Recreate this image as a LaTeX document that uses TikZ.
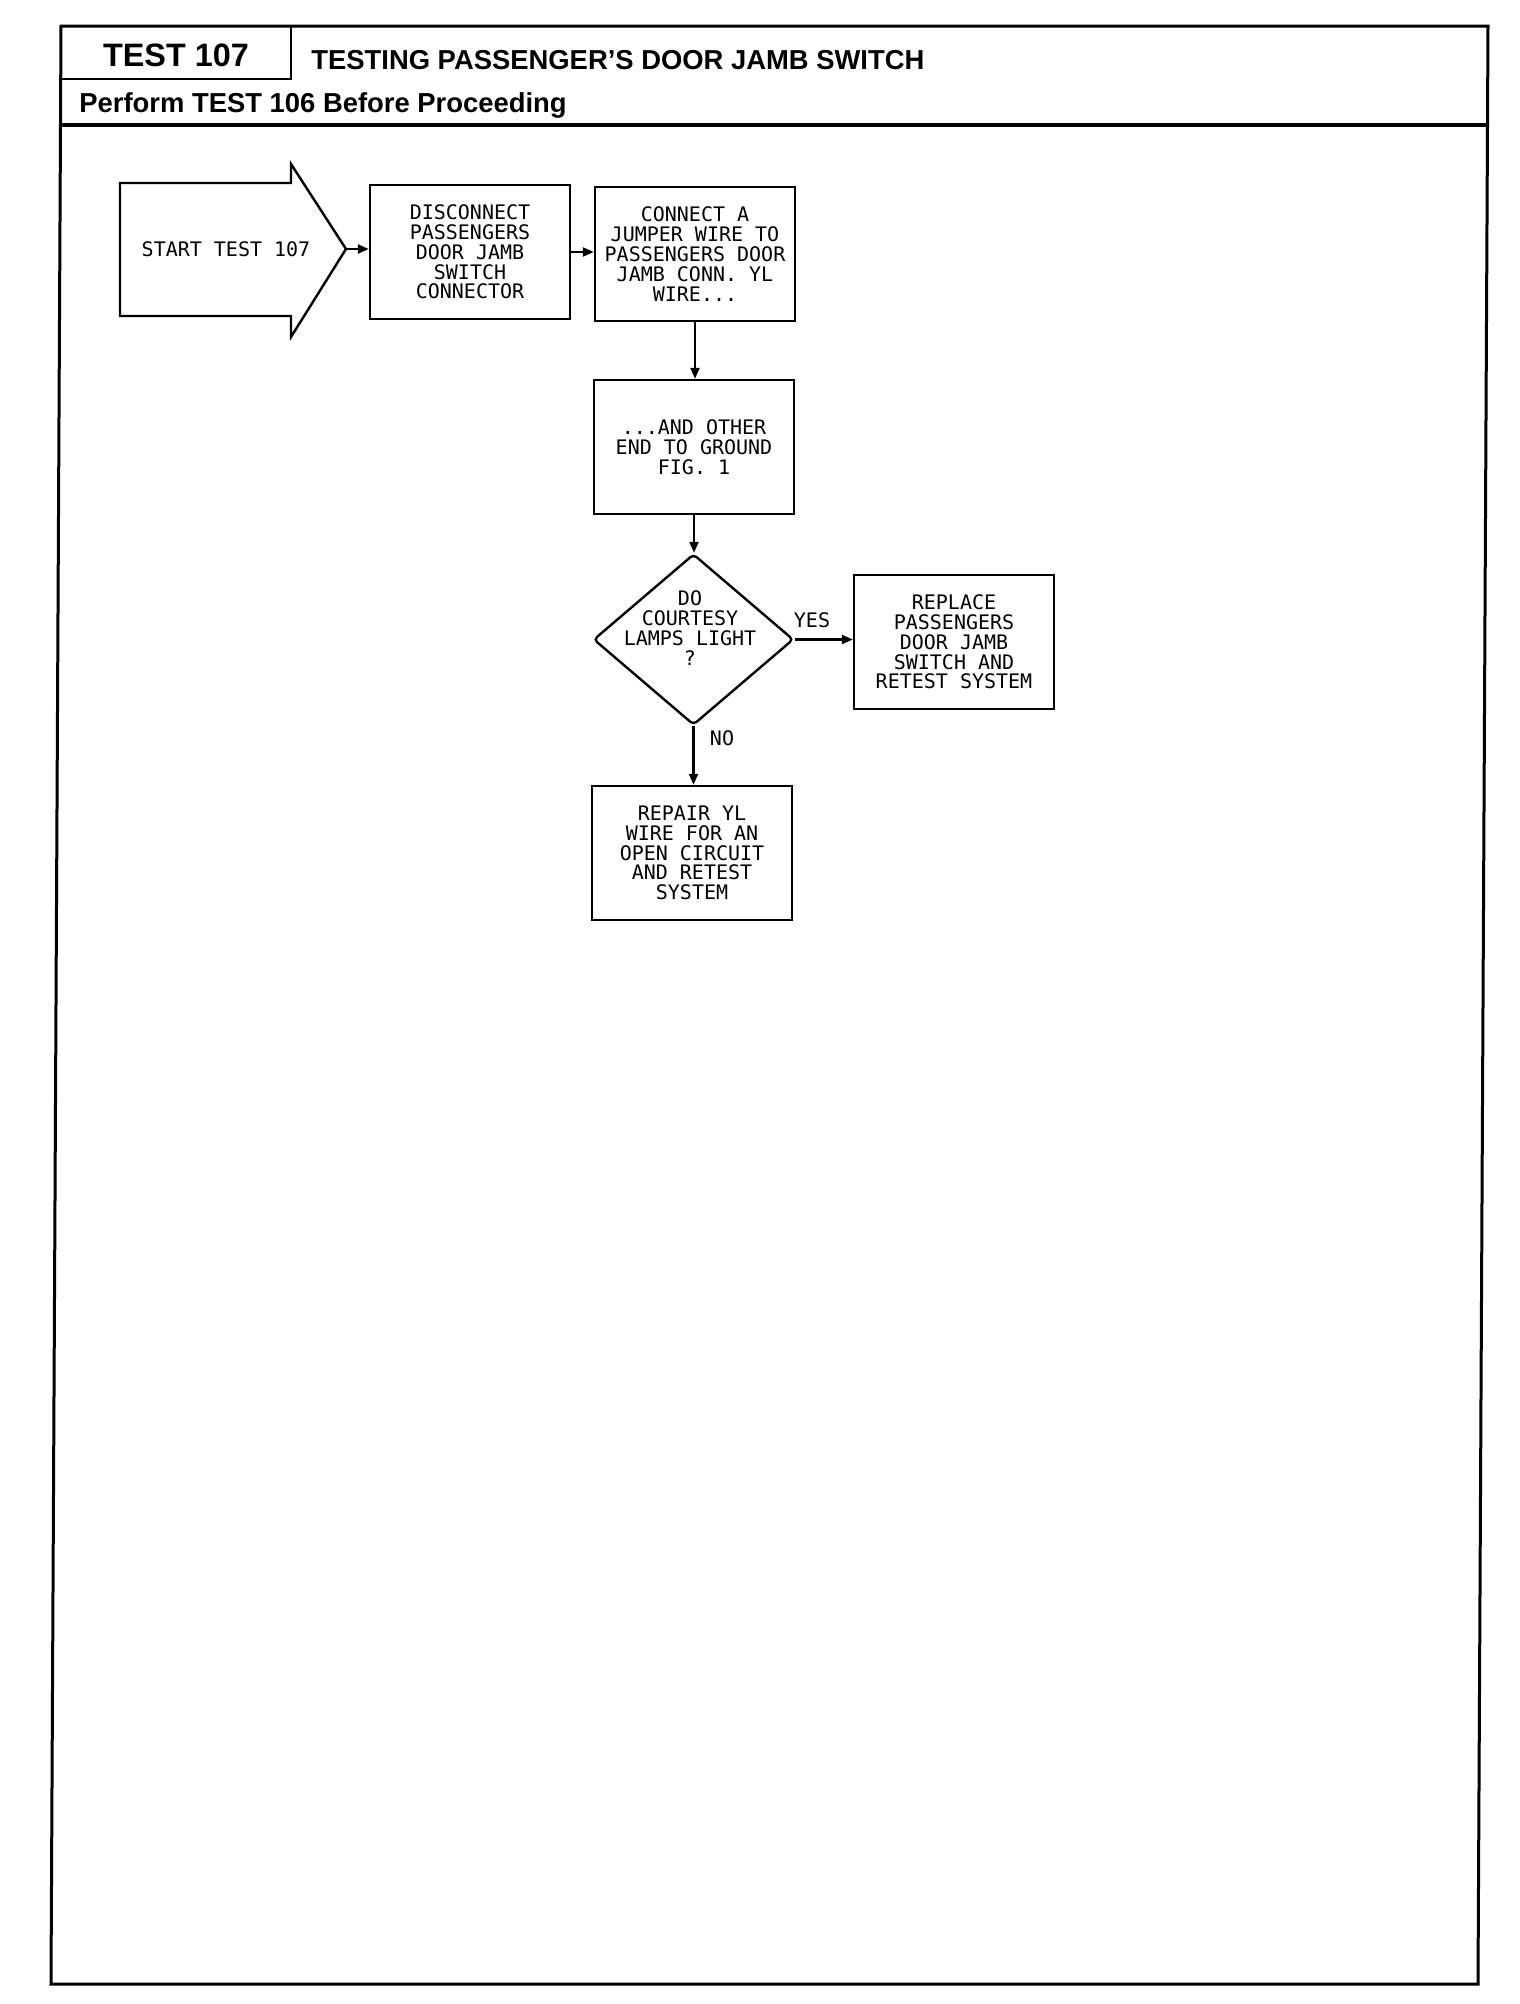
\documentclass[tikz,border=0pt]{standalone}
\usepackage{fontspec}
\setmainfont{Liberation Sans}
\newfontfamily\plotfont{DejaVu Sans Mono}
\usetikzlibrary{arrows.meta,shapes.geometric}
\begin{document}
\begin{tikzpicture}[x=0.5pt,y=-0.5pt,
  box/.style={draw,line width=1.2pt,minimum width=100pt,minimum height=67pt,inner sep=0pt,align=center,font=\plotfont\fontsize{10}{9.9}\selectfont},
  arr/.style={-{Triangle[length=5.5pt,width=4.5pt]},line width=1.1pt},
  lbl/.style={font=\plotfont\fontsize{10}{9.9}\selectfont,inner sep=0pt,align=center},
  framestyle/.style={line width=1.5pt},
  hdrbig/.style={font=\bfseries\fontsize{16.2}{18}\selectfont,inner sep=0pt},
  hdr/.style={font=\bfseries\fontsize{13.7}{16}\selectfont,inner sep=0pt}]
\useasboundingbox (0,0) rectangle (1520,2004);
\fill[white] (0,0) rectangle (1520,2004);
% page frame
\draw[framestyle] (61,26) -- (1488,26) -- (1478,1984) -- (51,1984) -- cycle;
\draw[line width=1.2pt] (61,79) -- (291,79) -- (291,26);
\draw[line width=2pt] (60.5,125) -- (1487.5,125);
% header texts
\node[hdrbig,anchor=base] (testno) at (176,66.5) {TEST 107};
\node[hdr,anchor=base west] (title) at (311,69) {TESTING PASSENGER’S DOOR JAMB SWITCH};
\node[hdr,anchor=base west] (perform) at (79,112) {Perform TEST 106 Before Proceeding};
% start arrow
\draw[line width=1.2pt] (120,183) -- (291,183) -- (291,164) -- (346,249) -- (291,337) -- (291,316) -- (120,316) -- cycle;
\coordinate (starttip) at (346,249);
\node[lbl] (start) at (226,249) {START TEST 107};
% boxes
\node[box] (b1) at (470,252) {DISCONNECT\\PASSENGERS\\DOOR JAMB\\SWITCH\\CONNECTOR};
\node[box] (b2) at (695,254) {CONNECT A\\JUMPER WIRE TO\\PASSENGERS DOOR\\JAMB CONN. YL\\WIRE...};
\node[box] (b3) at (694,447) {...AND OTHER\\END TO GROUND\\FIG. 1};
\node[draw,diamond,line width=1.2pt,minimum width=100pt,minimum height=85.5pt,inner sep=0pt,rounded corners=2pt] (dia) at (693.5,639.5) {};
\node[lbl] (diatext) at (690,628) {DO\\COURTESY\\LAMPS LIGHT\\?};
\node[box] (b4) at (954,642) {REPLACE\\PASSENGERS\\DOOR JAMB\\SWITCH AND\\RETEST SYSTEM};
\node[box] (b5) at (692,853) {REPAIR YL\\WIRE FOR AN\\OPEN CIRCUIT\\AND RETEST\\SYSTEM};
% connectors
\draw[arr] (starttip) -- (b1.west |- starttip);
\draw[arr] (b1.east) -- (b2.west |- b1.east);
\draw[arr] (b2.south) -- (b2.south |- b3.north);
\draw[arr] (b3.south) -- (b3.south |- dia.north);
\draw[arr] (dia.east) -- (b4.west |- dia.east);
\draw[arr] (dia.south) -- (dia.south |- b5.north);
\node[lbl] (yes) at (812,620) {YES};
\node[lbl] (no) at (722,738) {NO};
\end{tikzpicture}
\end{document}
